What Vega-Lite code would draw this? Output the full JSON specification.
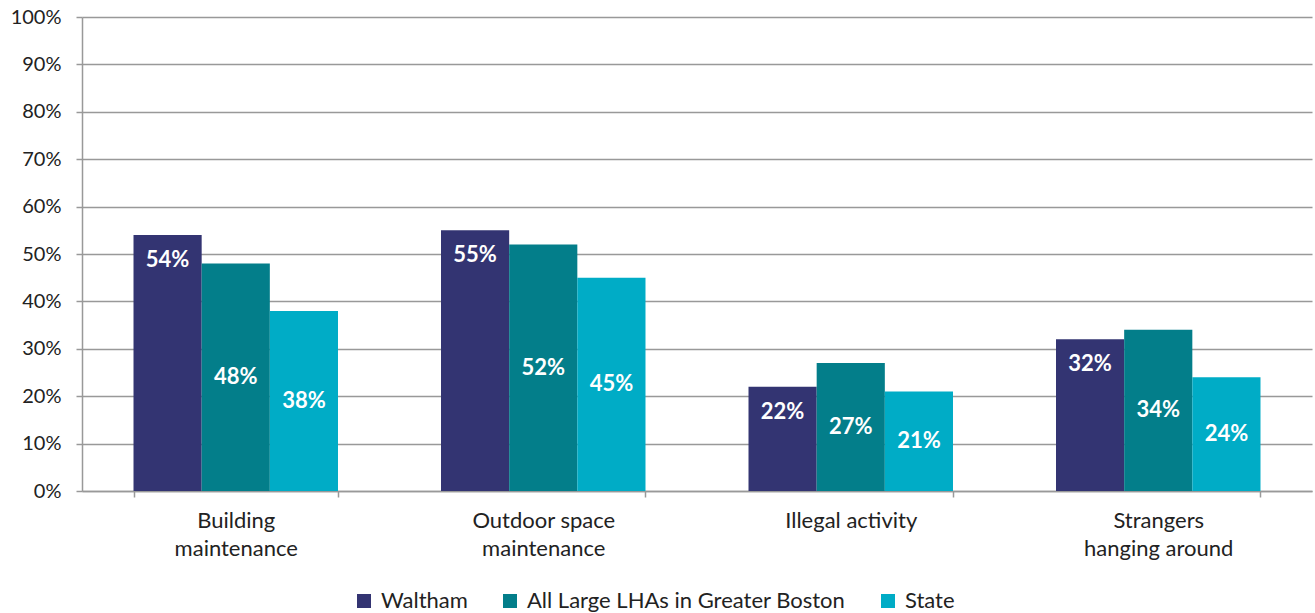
{
  "$schema": "https://vega.github.io/schema/vega-lite/v6.json",
  "width": 1230,
  "height": 474,
  "autosize": {"type": "none"},
  "padding": {"left": 82, "top": 17, "right": 3, "bottom": 122},
  "config": {"font": "Lato", "view": {"stroke": null}},
  "data": {
    "values": [
      {"category": "Building maintenance", "group": "Waltham", "value": 0.54},
      {"category": "Building maintenance", "group": "All Large LHAs in Greater Boston", "value": 0.48},
      {"category": "Building maintenance", "group": "State", "value": 0.38},
      {"category": "Outdoor space maintenance", "group": "Waltham", "value": 0.55},
      {"category": "Outdoor space maintenance", "group": "All Large LHAs in Greater Boston", "value": 0.52},
      {"category": "Outdoor space maintenance", "group": "State", "value": 0.45},
      {"category": "Illegal activity", "group": "Waltham", "value": 0.22},
      {"category": "Illegal activity", "group": "All Large LHAs in Greater Boston", "value": 0.27},
      {"category": "Illegal activity", "group": "State", "value": 0.21},
      {"category": "Strangers hanging around", "group": "Waltham", "value": 0.32},
      {"category": "Strangers hanging around", "group": "All Large LHAs in Greater Boston", "value": 0.34},
      {"category": "Strangers hanging around", "group": "State", "value": 0.24}
    ]
  },
  "encoding": {
    "x": {
      "field": "category",
      "type": "nominal",
      "sort": ["Building maintenance", "Outdoor space maintenance", "Illegal activity", "Strangers hanging around"],
      "scale": {"paddingInner": 0.335, "paddingOuter": 0.1675},
      "axis": {
        "title": null,
        "labelAngle": 0,
        "tickBand": "extent",
        "domainColor": "#999999",
        "domainWidth": 1.5,
        "tickColor": "#999999",
        "tickWidth": 1.5,
        "tickSize": 6,
        "labelFontSize": 22,
        "labelColor": "#222222",
        "labelPadding": 13,
        "labelLineHeight": 28,
        "labelLimit": 300,
        "labelExpr": "datum.value == 'Building maintenance' ? ['Building', 'maintenance'] : datum.value == 'Outdoor space maintenance' ? ['Outdoor space', 'maintenance'] : datum.value == 'Strangers hanging around' ? ['Strangers', 'hanging around'] : datum.value"
      }
    },
    "xOffset": {
      "field": "group",
      "type": "nominal",
      "scale": {"domain": ["Waltham", "All Large LHAs in Greater Boston", "State"], "paddingInner": 0, "paddingOuter": 0}
    }
  },
  "layer": [
    {
      "mark": {"type": "bar"},
      "encoding": {
        "y": {
          "field": "value",
          "type": "quantitative",
          "scale": {"domain": [0, 1]},
          "axis": {
            "title": null,
            "values": [0, 0.1, 0.2, 0.3, 0.4, 0.5, 0.6, 0.7, 0.8, 0.9, 1],
            "format": ".0%",
            "grid": true,
            "gridColor": "#999999",
            "gridWidth": 1.5,
            "domainColor": "#999999",
            "domainWidth": 1.5,
            "tickColor": "#999999",
            "tickWidth": 1.5,
            "tickSize": 6,
            "labelPadding": 15,
            "labelFontSize": 20,
            "labelColor": "#222222"
          }
        },
        "color": {
          "field": "group",
          "type": "nominal",
          "scale": {
            "domain": ["Waltham", "All Large LHAs in Greater Boston", "State"],
            "range": ["#333472", "#037E8A", "#00ACC6"]
          },
          "legend": {
            "title": null,
            "orient": "none",
            "legendX": 271,
            "legendY": 573,
            "direction": "horizontal",
            "symbolType": "square",
            "symbolSize": 196,
            "symbolStrokeWidth": 0,
            "labelFontSize": 22,
            "labelColor": "#222222",
            "labelOffset": 6,
            "labelLimit": 400,
            "columnPadding": 31
          }
        }
      }
    },
    {
      "transform": [{"filter": {"field": "group", "equal": "Waltham"}}],
      "mark": {"type": "text", "color": "white", "fontWeight": "bold", "fontSize": 22, "baseline": "middle", "dy": 25},
      "encoding": {
        "y": {"field": "value", "type": "quantitative", "scale": {"domain": [0, 1]}, "axis": null},
        "text": {"field": "value", "type": "quantitative", "format": ".0%"}
      }
    },
    {
      "transform": [{"filter": {"field": "group", "oneOf": ["All Large LHAs in Greater Boston", "State"]}}],
      "mark": {"type": "text", "color": "white", "fontWeight": "bold", "fontSize": 22, "baseline": "middle"},
      "encoding": {
        "y": {"field": "value", "type": "quantitative", "scale": {"domain": [0, 2]}, "axis": null},
        "text": {"field": "value", "type": "quantitative", "format": ".0%"}
      }
    }
  ],
  "resolve": {"scale": {"y": "independent"}}
}
